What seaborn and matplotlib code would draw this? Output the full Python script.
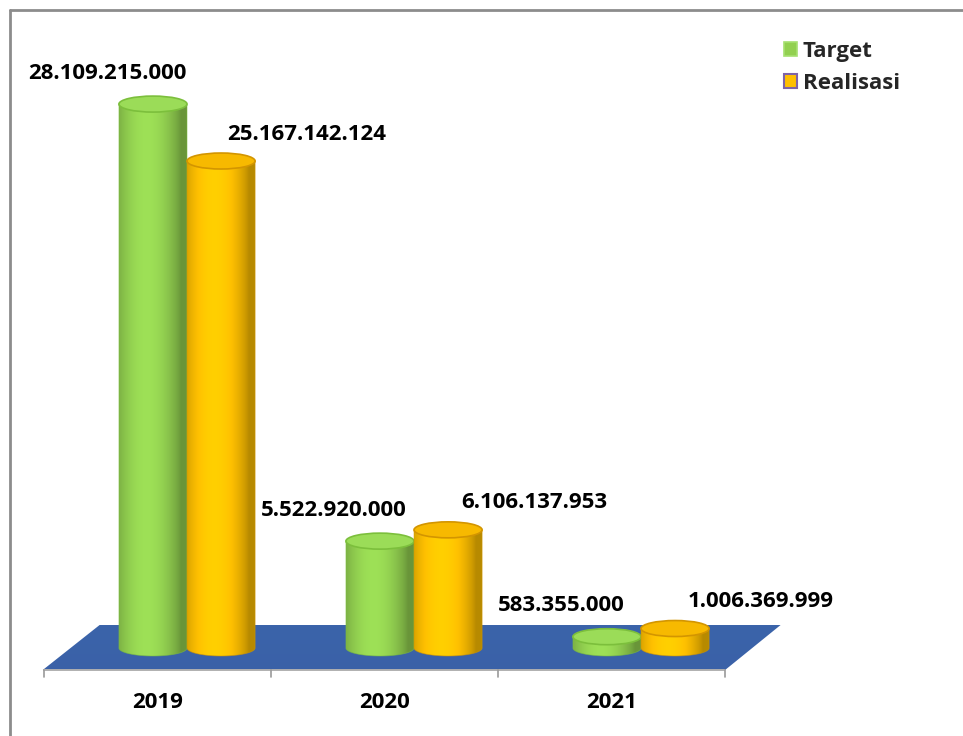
import numpy as np
import pandas as pd
import matplotlib
matplotlib.use("Agg")
import matplotlib.pyplot as plt
import seaborn as sns
from matplotlib.patches import Ellipse, Polygon, PathPatch, Patch
from matplotlib.path import Path
from matplotlib.lines import Line2D

# --- data -------------------------------------------------------------
years = ["2019", "2020", "2021"]
target = [28109215000, 5522920000, 583355000]
realisasi = [25167142124, 6106137953, 1006369999]
series = ["Target", "Realisasi"]

# --- style ------------------------------------------------------------
GREEN = "#92d050"
ORANGE = "#ffc000"
FLOOR = "#3b64aa"
FONT = ["Open Sans", "DejaVu Sans"]
FS = 16

sns.set_style("white")
plt.rcParams["font.family"] = FONT
plt.rcParams["font.weight"] = "bold"

SCALE = 1e9                 # values are drawn in billions
PX_PER_UNIT = 19.35         # vertical pixels per billion
BASE_PX = 648               # pixel row of the cylinder bases
CAT_PX = 227.0              # pixels per category
CAT0_PX = 157.5             # pixel column of the first category
W, H = 963, 736

def fmt_id(v):
    return f"{int(v):,}".replace(",", ".")

df = pd.DataFrame({
    "Tahun": years * 2,
    "Seri": [series[0]] * 3 + [series[1]] * 3,
    "Nilai": np.array(target + realisasi, dtype=float) / SCALE,
})

fig = plt.figure(figsize=(W / 100, H / 100), dpi=100)
ax = fig.add_axes([0, 0, 1, 1])

sns.barplot(data=df, x="Tahun", y="Nilai", hue="Seri", hue_order=series,
            palette=[GREEN, ORANGE], width=0.6, dodge=True, errorbar=None,
            legend=False, ax=ax)

xlim = ((0 - CAT0_PX) / CAT_PX, (W - CAT0_PX) / CAT_PX)
ylim = ((BASE_PX - H) / PX_PER_UNIT, BASE_PX / PX_PER_UNIT)

def py(px):
    """pixel row -> value units"""
    return (BASE_PX - px) / PX_PER_UNIT

# --- floor ------------------------------------------------------------
front, back = py(670), py(625)
floor = Polygon([(-0.505, front), (-0.255, back), (2.745, back), (2.5, front)],
                closed=True, facecolor=FLOOR, edgecolor="none", zorder=1)
ax.add_patch(floor)
grad = np.linspace(0, 1, 64)[:, None]
floor_img = np.zeros((64, 2, 4))
floor_img[..., 0] = 0.22
floor_img[..., 1] = 0.36
floor_img[..., 2] = 0.64
floor_img[..., 3] = 0.35 * grad[:, :1].repeat(2, axis=1)
im = ax.imshow(floor_img, extent=[-0.6, 2.8, front, back], aspect="auto",
               zorder=1.1, interpolation="bilinear")
im.set_clip_path(floor)

ax.plot([-0.505, 2.5], [front, front], color="#b0b0b0", lw=1.4, zorder=1.2,
        solid_capstyle="butt")
tick_len = 7 / PX_PER_UNIT
for b in np.arange(len(years) + 1) - 0.5:
    ax.plot([b, b], [front, front - tick_len], color="#9a9a9a", lw=1.2, zorder=1.2)

for i, y in enumerate(years):
    ax.text(i, py(703), y, ha="center", va="center", fontsize=FS,
            fontweight="bold", color="black", family=FONT)

# --- cylinders --------------------------------------------------------
ELL_H = 16 / PX_PER_UNIT
SHIFT = 0.13

def shade(rgb, n=128):
    t = np.linspace(0, 1, n)
    k = 0.72 + 0.36 * np.clip(np.cos((t - 0.4) * np.pi * 1.0), 0, 1) ** 0.8
    arr = np.clip(np.array(rgb)[None, :] * k[:, None], 0, 1)
    return arr[None, :, :]

colors = {series[0]: matplotlib.colors.to_rgb(GREEN),
          series[1]: matplotlib.colors.to_rgb(ORANGE)}
top_face = {series[0]: "#9bdc58", series[1]: "#f7b900"}
top_edge = {series[0]: "#7cbf3c", series[1]: "#d39500"}
label_off = {series[0]: (-46, 31), series[1]: (86, 27)}
raw = {series[0]: target, series[1]: realisasi}

for k, (name, cont) in enumerate(zip(series, ax.containers)):
    for j, bar in enumerate(cont.patches):
        x0 = bar.get_x() + SHIFT
        w = bar.get_width()
        h = bar.get_height()
        bar.set_visible(False)
        cx = x0 + w / 2
        z = 3 + k
        # outline: straight sides plus a rounded bottom
        th = np.linspace(np.pi, 2 * np.pi, 60)
        arc = np.column_stack([cx + w / 2 * np.cos(th), 0 + ELL_H / 2 * np.sin(th)])
        verts = np.vstack([[x0, h], arc, [x0 + w, h], [x0, h]])
        body = PathPatch(Path(verts, closed=True), facecolor="none",
                         edgecolor="none", zorder=z)
        ax.add_patch(body)
        img = ax.imshow(shade(colors[name]), extent=[x0, x0 + w, -ELL_H, h],
                        aspect="auto", zorder=z, interpolation="bilinear")
        img.set_clip_path(body)
        ax.add_patch(PathPatch(Path(verts, closed=True), facecolor="none",
                               edgecolor=top_edge[name], lw=0.6, alpha=0.6,
                               zorder=z + 0.05))
        ax.add_patch(Ellipse((cx, h), w, ELL_H, facecolor=top_face[name],
                             edgecolor=top_edge[name], lw=1.2, zorder=z + 0.1))
        dx, dy = label_off[name]
        ax.annotate(fmt_id(raw[name][j]), xy=(cx, h), xytext=(dx, dy),
                    textcoords="offset pixels", ha="center", va="center",
                    fontsize=FS, fontweight="bold", color="black",
                    family=FONT, zorder=10)

ax.set_xlim(*xlim)
ax.set_ylim(*ylim)
ax.set_axis_off()

# --- legend -----------------------------------------------------------
handles = [Patch(facecolor=GREEN, edgecolor="#a6e070", lw=1.2, label=series[0]),
           Patch(facecolor=ORANGE, edgecolor="#7f64a8", lw=1.5, label=series[1])]
leg = fig.legend(handles=handles, loc="upper left",
                 bbox_to_anchor=(784 / W, 1 - 41 / H), frameon=False,
                 prop={"family": FONT, "weight": "bold", "size": FS},
                 handlelength=0.6, handleheight=0.6, handletextpad=0.25,
                 labelspacing=0.5, borderpad=0, borderaxespad=0)

# --- chart frame (top and left edges) ---------------------------------
fig.add_artist(Line2D([10 / W, 1], [1 - 10 / H, 1 - 10 / H], color="#8c8c8c",
                      lw=2, transform=fig.transFigure))
fig.add_artist(Line2D([10 / W, 10 / W], [0, 1 - 10 / H], color="#8c8c8c",
                      lw=2, transform=fig.transFigure))

fig.savefig("out.png", dpi=100, facecolor="white")
